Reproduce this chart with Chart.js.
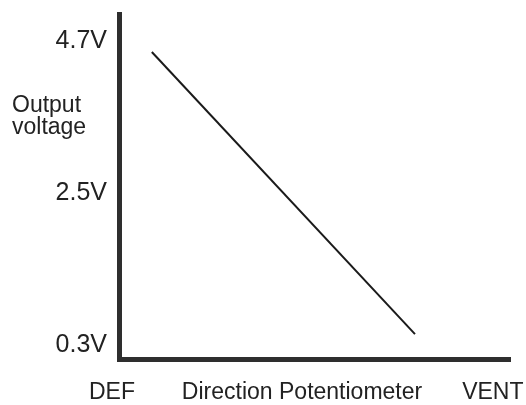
<!DOCTYPE html>
<html>
<head>
<meta charset="utf-8">
<script src="https://cdn.jsdelivr.net/npm/chart.js@4/dist/chart.umd.min.js"></script>
<style>
  html, body { margin: 0; padding: 0; background: #ffffff; }
  #wrap { width: 526px; height: 405px; position: relative; }
</style>
</head>
<body>
<div id="wrap"><canvas id="c" width="526" height="405"></canvas></div>
<script>
// ---- data ----
const xCategoryLabels = ['DEF', 'Direction Potentiometer', 'VENT'];
const xCategoryPositions = [0, 48.6, 97.4];          // potentiometer travel (0 = DEF, 100 = VENT end of axis)
const yTickValues = [0.3, 2.5, 4.7];
const yTickLabels = ['0.3V', '2.5V', '4.7V'];
const yTitleLines = ['Output', 'voltage'];
const linePosition = [8.4, 75.7];                    // potentiometer position
const lineVoltage = [4.55, 0.46];                    // output voltage

const FONT = '"Liberation Sans", Arial, Helvetica, sans-serif';
const TEXT = '#222222';
const AXIS = '#2e2e2e';

const yTitlePlugin = {
  id: 'yTitle',
  afterDraw(chart) {
    const ctx = chart.ctx;
    ctx.save();
    ctx.fillStyle = TEXT;
    ctx.font = '23px ' + FONT;
    ctx.textAlign = 'left';
    ctx.textBaseline = 'alphabetic';
    ctx.fillText(yTitleLines[0], 12, 112);
    ctx.fillText(yTitleLines[1], 12, 134);
    ctx.restore();
  }
};

new Chart(document.getElementById('c'), {
  type: 'line',
  data: {
    datasets: [{
      data: linePosition.map((x, i) => ({ x: x, y: lineVoltage[i] })),
      borderColor: '#1a1a1a',
      borderWidth: 2,
      pointRadius: 0,
      fill: false,
      tension: 0
    }]
  },
  options: {
    responsive: false,
    animation: false,
    layout: { padding: { top: 14, right: 16, bottom: 0, left: 0 } },
    plugins: { legend: { display: false }, tooltip: { enabled: false } },
    scales: {
      x: {
        type: 'linear',
        min: 0,
        max: 100,
        grid: { display: false, drawTicks: false },
        border: { display: true, width: 5, color: AXIS },
        afterBuildTicks(scale) { scale.ticks = xCategoryPositions.map(v => ({ value: v })); },
        afterFit(scale) { scale.height = 46; scale.paddingLeft = 0; scale.paddingRight = 0; },
        ticks: {
          autoSkip: false,
          maxRotation: 0,
          minRotation: 0,
          padding: 20,
          labelOffset: -7,
          color: TEXT,
          font: { family: FONT, size: 23 },
          callback(value) {
            const i = xCategoryPositions.indexOf(value);
            return i >= 0 ? xCategoryLabels[i] : '';
          }
        }
      },
      y: {
        type: 'linear',
        min: 0.1,
        max: 5.1,
        grid: { display: false, drawTicks: false },
        border: { display: true, width: 5, color: AXIS },
        afterBuildTicks(scale) { scale.ticks = yTickValues.map(v => ({ value: v })); },
        afterFit(scale) { scale.width = 119; scale.paddingTop = 0; scale.paddingBottom = 0; },
        ticks: {
          autoSkip: false,
          padding: 12,
          color: TEXT,
          font: { family: FONT, size: 25 },
          callback(value) {
            const i = yTickValues.indexOf(value);
            return i >= 0 ? yTickLabels[i] : '';
          }
        }
      }
    }
  },
  plugins: [yTitlePlugin]
});
</script>
</body>
</html>
